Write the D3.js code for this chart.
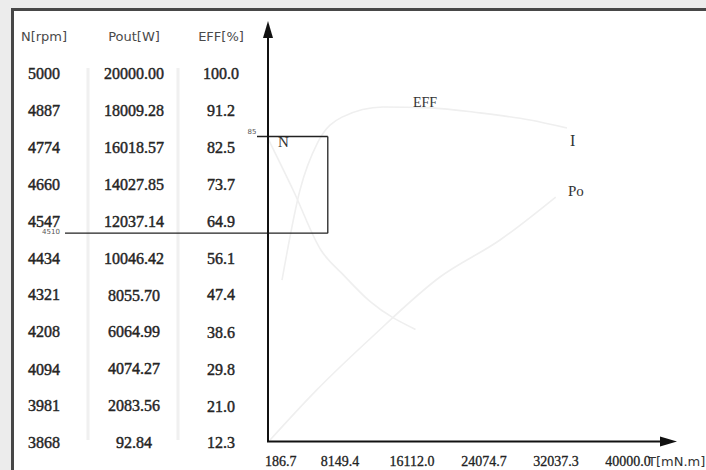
<!DOCTYPE html>
<html>
<head>
<meta charset="utf-8">
<script src="https://cdn.jsdelivr.net/npm/d3@7"></script>
<style>
  html, body { margin: 0; padding: 0; background: #ececec; }
  svg { display: block; }
</style>
</head>
<body>
<svg id="chart" width="706" height="470"></svg>
<script>
// Motor characteristic: speed / output power / efficiency against torque
const torqueTicks = [186.7, 8149.4, 16112.0, 24074.7, 32037.3, 40000.0];
const speedTicks = [5000, 4887, 4774, 4660, 4547, 4434, 4321, 4208, 4094, 3981, 3868];
const poutTicks = [20000.00, 18009.28, 16018.57, 14027.85, 12037.14, 10046.42, 8055.70, 6064.99, 4074.27, 2083.56, 92.84];
const effTicks = [100.0, 91.2, 82.5, 73.7, 64.9, 56.1, 47.4, 38.6, 29.8, 21.0, 12.3];

// Max efficiency point markers
const maxEff = 85;
const maxEffSpeed = 4510;
const maxEffTorque = 6800;

// Curves (torque in mN.m)
const effCurve = [[1735, 50.9], [3726, 72.3], [5716, 83.7], [8370, 89.6], [12905, 92.0], [18103, 91.8], [23632, 90.6], [29162, 88.9], [33254, 87.0]];
const speedCurve = [[186.7, 4800], [3000, 4640], [6000, 4460], [8600, 4380], [11500, 4300], [16500, 4215]];
const poutCurve = [[408, 238], [5500, 2900], [11687, 5789], [19207, 9022], [25844, 11016], [32005, 13333]];

const svg = d3.select("#chart");
const W = 706, H = 470;

// Frame
svg.append("rect").attr("x", 12.5).attr("y", 9.5).attr("width", W).attr("height", H)
  .attr("fill", "#ffffff").attr("stroke", "#474747").attr("stroke-width", 3);

const x = d3.scaleLinear().domain([186.7, 40000]).range([268, 628]);
const yN = d3.scaleLinear().domain([3868, 5000]).range([442.7, 73.3]);
const yP = d3.scaleLinear().domain([92.84, 20000]).range([442.7, 73.3]);
const yE = d3.scaleLinear().domain([12.3, 100]).range([442.7, 73.3]);

const serif = "'Liberation Serif', 'DejaVu Serif', serif";
const sans = "'DejaVu Sans', Verdana, sans-serif";

// Table column separators
[88, 178].forEach(cx => {
  svg.append("line").attr("x1", cx).attr("x2", cx).attr("y1", 68).attr("y2", 440)
    .attr("stroke", "#f0f0f0").attr("stroke-width", 3);
});

// Column headers
const headers = [["N[rpm]", 44], ["Pout[W]", 134], ["EFF[%]", 221]];
svg.selectAll("text.hdr").data(headers).join("text").attr("class", "hdr")
  .attr("x", d => d[1]).attr("y", 41).attr("text-anchor", "middle")
  .attr("font-family", sans).attr("font-size", 13).attr("fill", "#4a4a4a")
  .text(d => d[0]);

// Table value columns, one row per tick of each left scale
function column(values, scale, cx, fmt) {
  svg.append("g").selectAll("text").data(values).join("text")
    .attr("x", cx).attr("y", d => scale(d)).attr("dy", "0.35em")
    .attr("text-anchor", "middle").attr("font-family", serif).attr("font-size", 16)
    .attr("fill", "#262626").attr("stroke", "#262626").attr("stroke-width", 0.45)
    .text(fmt);
}
column(speedTicks, yN, 44, d3.format("d"));
column(poutTicks, yP, 134, d3.format(".2f"));
column(effTicks, yE, 221, d3.format(".1f"));

// Curves
const line = (ys) => d3.line().x(d => x(d[0])).y(d => ys(d[1])).curve(d3.curveMonotoneX);
[[effCurve, yE], [speedCurve, yN], [poutCurve, yP]].forEach(([data, ys]) => {
  svg.append("path").datum(data).attr("d", line(ys)).attr("fill", "none")
    .attr("stroke", "#efefef").attr("stroke-width", 1.6);
});

// Max efficiency box and marker lines
const bx1 = x(maxEffTorque), byTop = yE(maxEff), byBot = yN(maxEffSpeed);
svg.append("line").attr("x1", 257).attr("x2", bx1).attr("y1", byTop).attr("y2", byTop).attr("stroke", "#222").attr("stroke-width", 1.3);
svg.append("line").attr("x1", 65).attr("x2", bx1).attr("y1", byBot).attr("y2", byBot).attr("stroke", "#222").attr("stroke-width", 1.3);
svg.append("line").attr("x1", bx1).attr("x2", bx1).attr("y1", byTop).attr("y2", byBot).attr("stroke", "#222").attr("stroke-width", 1.3);
svg.append("text").attr("x", 252).attr("y", byTop - 2).attr("text-anchor", "middle")
  .attr("font-family", sans).attr("font-size", 7).attr("fill", "#555").text(maxEff);
svg.append("text").attr("x", 51).attr("y", byBot + 1).attr("text-anchor", "middle")
  .attr("font-family", sans).attr("font-size", 7).attr("fill", "#555").text(maxEffSpeed);

// Axes with arrowheads
const ox = x(186.7), oy = 441.5;
svg.append("line").attr("x1", ox).attr("x2", ox).attr("y1", oy).attr("y2", 36).attr("stroke", "#111").attr("stroke-width", 2);
svg.append("path").attr("d", `M${ox},21 L${ox - 5},38 L${ox + 5},38 Z`).attr("fill", "#111");
svg.append("line").attr("x1", ox - 1).attr("x2", 662).attr("y1", oy).attr("y2", oy).attr("stroke", "#111").attr("stroke-width", 2);
svg.append("path").attr("d", `M677,${oy} L660,${oy - 5} L660,${oy + 5} Z`).attr("fill", "#111");

// Torque tick labels
svg.append("g").selectAll("text").data(torqueTicks).join("text")
  .attr("x", (d, i) => i === 0 ? x(d) - 3 : x(d))
  .attr("y", 466).attr("text-anchor", (d, i) => i === 0 ? "start" : "middle")
  .attr("font-family", serif).attr("font-size", 14).attr("fill", "#222")
  .attr("stroke", "#222").attr("stroke-width", 0.3)
  .text(d => d3.format(".1f")(d));
svg.append("text").attr("x", 648).attr("y", 466).attr("font-family", sans)
  .attr("font-size", 13).attr("fill", "#333").text("T[mN.m]");

// Curve labels
const lbl = (t, lx, ly, size) => svg.append("text").attr("x", lx).attr("y", ly)
  .attr("font-family", serif).attr("font-size", size).attr("fill", "#333").text(t);
lbl("N", 278, 147, 15);
lbl("EFF", 413, 107, 14);
lbl("I", 570, 146, 16);
lbl("Po", 568, 196, 15);
</script>
</body>
</html>
